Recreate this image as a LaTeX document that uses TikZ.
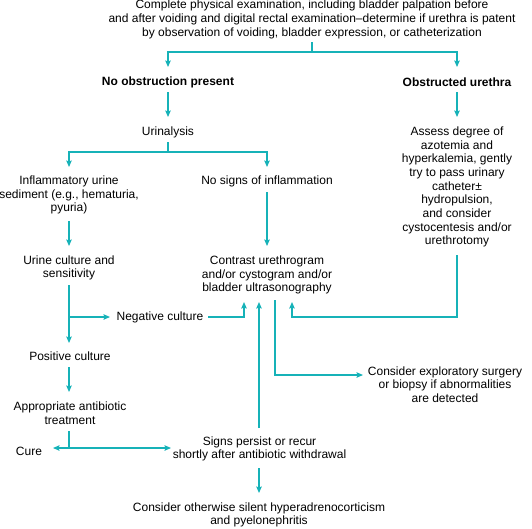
\documentclass[tikz,border=0pt]{standalone}
\usepackage{fontspec}
\setmainfont{Liberation Sans}
\usetikzlibrary{arrows.meta}
\definecolor{teal1}{RGB}{22,178,184}
\tikzset{
  lbl/.style={align=center, inner sep=0pt, font=\fontsize{12}{13.7}\selectfont},
  bold/.style={lbl, font=\fontsize{12}{13.7}\selectfont\bfseries},
  ln/.style={line width=1.2pt, draw=teal1},
  arr/.style={ln, -{Stealth[length=6.5pt,width=5.5pt,inset=1pt]}},
  barr/.style={ln, {Stealth[length=6.5pt,width=5.5pt,inset=1pt]}-{Stealth[length=6.5pt,width=5.5pt,inset=1pt]}}
}
\begin{document}
\begin{tikzpicture}[x=1pt,y=-1pt]
\useasboundingbox (0,0) rectangle (532,528);
\node[lbl] (top) at (312,19.5) {Complete physical examination, including bladder palpation before\\and after voiding and digital rectal examination–determine if urethra is patent\\by observation of voiding, bladder expression, or catheterization};
\node[bold] (noobs) at (168,82) {No obstruction present};
\node[bold] (obs) at (457,82) {Obstructed urethra};
\node[lbl] (urin) at (168,132) {Urinalysis};
\node[lbl] (assess) at (457,187) {Assess degree of\\azotemia and\\hyperkalemia, gently\\try to pass urinary\\catheter±\\hydropulsion,\\and consider\\cystocentesis and/or\\urethrotomy};
\node[lbl] (infl) at (69,195) {Inflammatory urine\\sediment (e.g., hematuria,\\pyuria)};
\node[lbl] (nosign) at (267,181) {No signs of inflammation};
\node[lbl] (urine) at (69,268) {Urine culture and\\sensitivity};
\node[lbl] (contrast) at (267,275) {Contrast urethrogram\\and/or cystogram and/or\\bladder ultrasonography};
\node[lbl] (neg) at (160,317) {Negative culture};
\node[lbl] (pos) at (70,356) {Positive culture};
\node[lbl] (treat) at (70,413.5) {Appropriate antibiotic\\treatment};
\node[lbl] (cure) at (29,451) {Cure};
\node[lbl] (signs) at (259.5,449) {Signs persist or recur\\shortly after antibiotic withdrawal};
\node[lbl] (otherw) at (259,515) {Consider otherwise silent hyperadrenocorticism\\and pyelonephritis};
\node[lbl] (explor) at (445,384.5) {Consider exploratory surgery\\or biopsy if abnormalities\\are detected};
% coordinates
\coordinate (t1) at (312,42); \coordinate (t2) at (312,52);
\coordinate (tlA) at (168,67); \coordinate (trA) at (457,67);
\coordinate (nb) at (168,92); \coordinate (uA) at (168,117);
\coordinate (ob) at (457,92); \coordinate (aA) at (457,117);
\coordinate (u1) at (168,142); \coordinate (u2) at (168,152);
\coordinate (iA) at (69,167); \coordinate (nA) at (267,167);
\coordinate (ib) at (69,221); \coordinate (ucA) at (69,246);
\coordinate (nsb) at (267,192); \coordinate (cA) at (267,246);
\coordinate (ucb) at (69,285); \coordinate (pA) at (69,343);
\coordinate (ucj) at (69,317); \coordinate (ngA) at (110,317);
\coordinate (ngb) at (208,317); \coordinate (cA1) at (244,302);
\coordinate (sgt) at (259,428); \coordinate (cA2) at (259,302);
\coordinate (cb) at (275,300); \coordinate (eA) at (363,375);
\coordinate (asb) at (457,255); \coordinate (asj) at (292,317); \coordinate (cA3) at (292,302);
\coordinate (pb) at (69,367); \coordinate (tA) at (69,392);
\coordinate (tb) at (69,431); \coordinate (tj) at (69,448);
\coordinate (crA) at (53,448); \coordinate (sA) at (171,448);
\coordinate (sb) at (259,468); \coordinate (oA) at (259,493);
% connectors
\draw[ln] (t1) -- (t2);
\draw[arr] (t2) -| (tlA);
\draw[arr] (t2) -| (trA);
\draw[arr] (nb) -- (uA);
\draw[arr] (ob) -- (aA);
\draw[ln] (u1) -- (u2);
\draw[arr] (u2) -| (iA);
\draw[arr] (u2) -| (nA);
\draw[arr] (ib) -- (ucA);
\draw[arr] (nsb) -- (cA);
\draw[arr] (ucb) -- (pA);
\draw[arr] (ucj) -- (ngA);
\draw[arr] (ngb) -| (cA1);
\draw[arr] (sgt) -- (cA2);
\draw[arr] (cb) |- (eA);
\draw[arr] (asb) |- (asj) -- (cA3);
\draw[arr] (pb) -- (tA);
\draw[ln] (tb) -- (tj);
\draw[barr] (crA) -- (sA);
\draw[arr] (sb) -- (oA);
\end{tikzpicture}
\end{document}
